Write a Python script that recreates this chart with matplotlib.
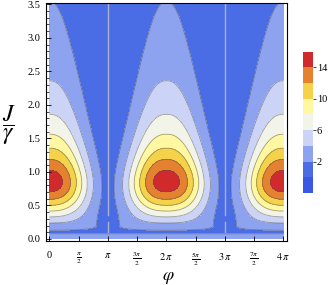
import numpy as np
import matplotlib.pyplot as plt

plt.rcParams['font.family'] = 'serif'
plt.rcParams['font.serif'] = ['Liberation Serif', 'DejaVu Serif']
plt.rcParams['mathtext.fontset'] = 'stix'

levels = [-2, 0, 2, 4, 6, 8, 10, 12, 14, 16]
band_colors = ['#3b58e4', '#4a6de6', '#8da3f0', '#cbd4f7', '#f3f4e9',
               '#fff7a2', '#f4d34b', '#e4822f', '#d02a2c']
line_levels = [2, 4, 6, 8, 10, 12, 14]
cbar_ticks = [2, 6, 10, 14]

# axes ticks
x_tick_mult = [0, 0.5, 1, 1.5, 2, 2.5, 3, 3.5, 4]
x_tick_labels = ['0', r'$\frac{\pi}{2}$', r'$\pi$', r'$\frac{3\pi}{2}$', r'$2\,\pi$',
                 r'$\frac{5\pi}{2}$', r'$3\,\pi$', r'$\frac{7\pi}{2}$', r'$4\,\pi$']
y_ticks = [0.0, 0.5, 1.0, 1.5, 2.0, 2.5, 3.0, 3.5]

# shape of the plotted surface
amp = 24.0          # peak ~15 near J/gamma ~ 0.85, phi = 0, 2pi, 4pi
low_exp = 1.25      # rise below the peak
knee_J = 0.9
knee_pow = 6
tail_c = 0.495      # tail ~ J^-1.7, value ~2 at J/gamma = 3.5
lobe_pow = 2.4      # flat-topped lobes in phi
lobe_w = 0.665      # lobe width in units of pi
lobe_narrow_J = 7.5 # lobes get narrower with J
lobe_flare = 0.0077 # lobes widen near J = 0
flare_pow = 2.5
strip_amp = 3.5     # thin band along J ~ 0
strip_J = 0.07

# light grey seam at phi = pi, 3 pi (J ranges of the visible pieces)
seam_mult = [1, 3]
seam_pieces = [(0.36, 3.5), (0.11, 0.26)]


def surface(phi, J):
    Jc = np.clip(J, 0.02, None)
    F = amp * J**low_exp / (1 + (J / knee_J)**knee_pow)**tail_c
    d = np.abs((phi + np.pi) % (2 * np.pi) - np.pi)
    s = np.pi * (lobe_w * (1 - (J / lobe_narrow_J)**2) + lobe_flare / Jc**flare_pow)
    G = np.exp(-(d / s)**lobe_pow)
    B = strip_amp * np.exp(-(J / strip_J)**2)
    return F * G + B


phi = np.linspace(0, 4 * np.pi, 700)
J = np.linspace(0, 3.5, 600)
PHI, JJ = np.meshgrid(phi, J)
Z = surface(PHI, JJ)

fig = plt.figure(figsize=(3.29, 2.85), dpi=100)
ax = fig.add_axes([0.1398, 0.1544, 0.7325, 0.835])

cs = ax.contourf(PHI, JJ, Z, levels=levels, colors=band_colors)
ax.contour(PHI, JJ, Z, levels=line_levels, colors='#555555', linewidths=0.6, alpha=0.55)

for m in seam_mult:
    for lo, hi in seam_pieces:
        ax.plot([m * np.pi, m * np.pi], [lo, hi], color='#a9b1cf', lw=1.0)

ax.set_xlim(-0.188, 4.06 * np.pi)
ax.set_ylim(-0.03, 3.52)

ax.set_xticks([m * np.pi for m in x_tick_mult])
ax.set_xticklabels(x_tick_labels)
ax.set_yticks(y_ticks)
ax.set_yticklabels([f'{v:.1f}' for v in y_ticks])
ax.set_yticks(np.arange(0, 3.51, 0.1), minor=True)
ax.tick_params(axis='both', direction='in', labelsize=7.5, length=3.5, width=0.6)
ax.tick_params(axis='y', which='minor', direction='in', length=2, width=0.5)
ax.tick_params(axis='x', pad=7)
ax.tick_params(axis='y', pad=4)
ax.tick_params(top=False, right=False)
for s in ax.spines.values():
    s.set_linewidth(0.8)

fig.text(9 / 329, 1 - 125 / 285, r'$\dfrac{J}{\gamma}$', fontsize=17, ha='center', va='center')
fig.text(168 / 329, 1 - 277 / 285, r'$\varphi$', fontsize=13, ha='center', va='center')

cax = fig.add_axes([0.920, 0.3228, 0.0304, 0.496])
cb = fig.colorbar(cs, cax=cax, ticks=cbar_ticks)
cb.outline.set_visible(False)
cb.ax.tick_params(labelsize=7.5, length=2, width=0.5, pad=1)
cb.ax.set_yticklabels([str(t) for t in cbar_ticks])

fig.savefig('out.png', dpi=100)
